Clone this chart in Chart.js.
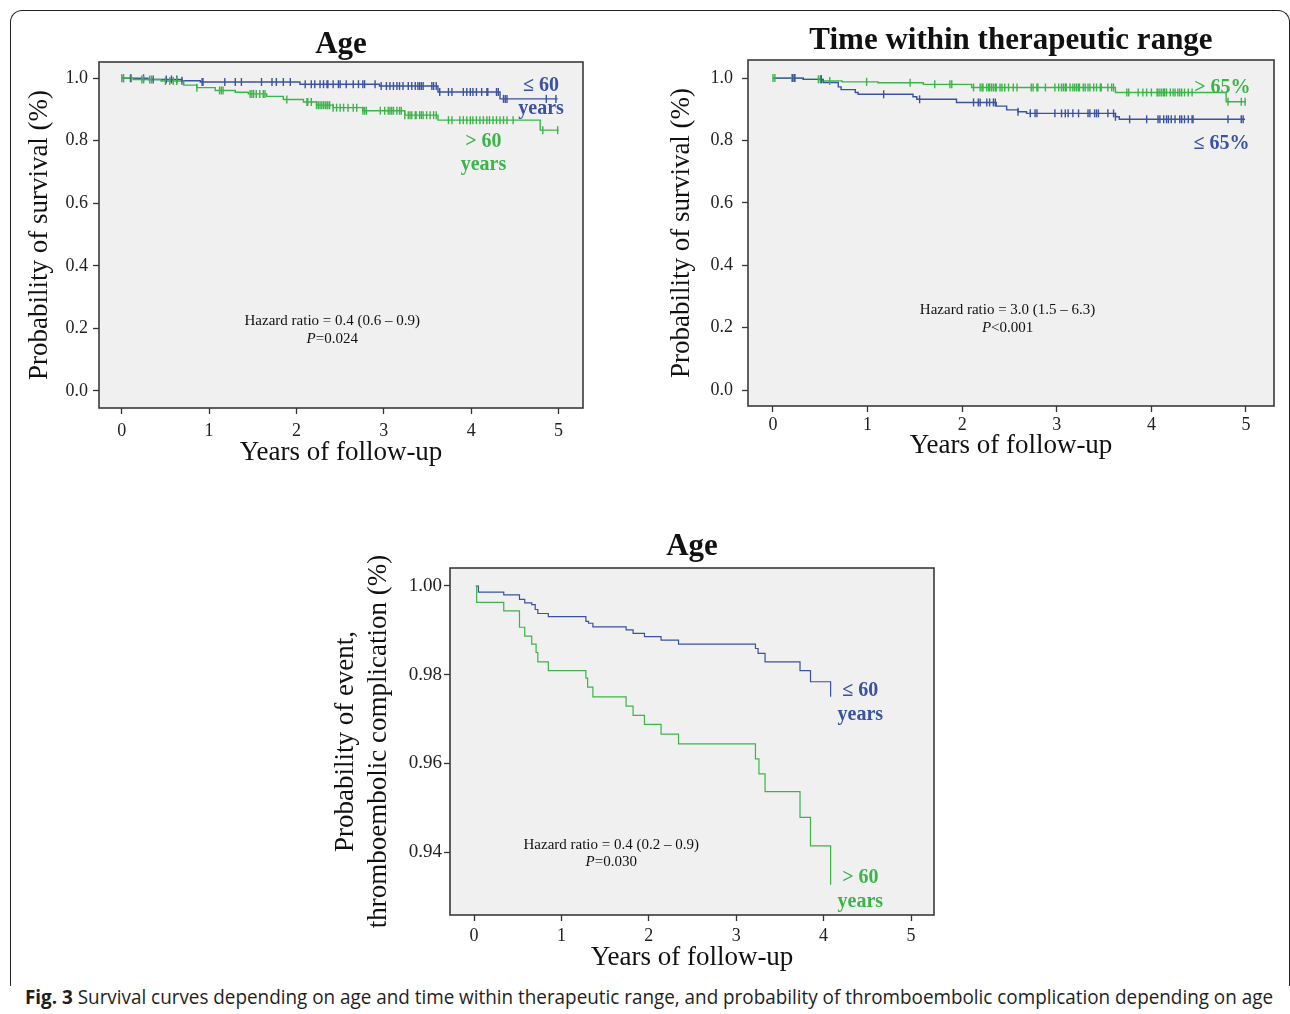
<!DOCTYPE html>
<html><head><meta charset="utf-8">
<script src="https://cdn.jsdelivr.net/npm/chart.js@4.4.1/dist/chart.umd.min.js"></script>
<style>
html,body{margin:0;padding:0;background:#fff;}
body{width:1290px;height:1014px;position:relative;overflow:hidden;}
.frame{position:absolute;left:10px;top:10px;width:1280px;height:976px;border:1.5px solid #222;border-bottom:none;border-radius:12px 12px 0 0;box-sizing:border-box;}
canvas{position:absolute;}
#cap{position:absolute;left:25px;top:984px;white-space:nowrap;font-family:'Open Sans',sans-serif;font-size:20px;color:#1e1e1e;transform-origin:0 0;line-height:25px;}
#cap b{font-weight:700;}
</style></head><body>
<div class="frame"></div>
<canvas id="c1" style="left:18px;top:12px;width:580px;height:463px;" width="580" height="463"></canvas>
<canvas id="c2" style="left:660px;top:12px;width:630px;height:463px;" width="630" height="463"></canvas>
<canvas id="c3" style="left:320px;top:515px;width:630px;height:460px;" width="630" height="460"></canvas>
<div id="cap"><b>Fig. 3</b> Survival curves depending on age and time within therapeutic range, and probability of thromboembolic complication depending on age</div>
<script>
// ---------- data ----------
const xTickValues = [0, 1, 2, 3, 4, 5];
const xTickLabels = ['0', '1', '2', '3', '4', '5'];
const survTickValues = [0, 0.2, 0.4, 0.6, 0.8, 1.0];
const survTickLabels = ['0.0', '0.2', '0.4', '0.6', '0.8', '1.0'];
const eventTickValues = [0.94, 0.96, 0.98, 1.00];
const eventTickLabels = ['0.94', '0.96', '0.98', '1.00'];

// Survival by age: <= 60 years
const ageYoungTimes = [0, 0.30, 0.69, 0.90, 2.04, 2.95, 3.62, 4.33, 4.99];
const ageYoungSurv = [1.000, 0.996, 0.992, 0.988, 0.981, 0.975, 0.956, 0.934, 0.934];
const ageYoungCensored = [0.02,0.10,0.25,0.36,0.51,0.57,0.63,0.69,0.92,0.93,1.18,1.30,1.37,1.60,1.72,1.77,1.85,1.93,2.10,2.17,2.21,2.27,2.31,2.35,2.36,2.42,2.48,2.50,2.57,2.65,2.71,2.76,2.78,2.90,2.97,3.03,3.07,3.11,3.15,3.18,3.22,3.28,3.32,3.36,3.39,3.41,3.43,3.45,3.55,3.57,3.60,3.64,3.74,3.78,3.91,3.95,3.99,4.02,4.06,4.12,4.18,4.19,4.29,4.31,4.37,4.39,4.41,4.86,4.97];
// Survival by age: > 60 years
const ageOldTimes = [0, 0.13, 0.45, 0.71, 0.86, 1.07, 1.30, 1.45, 1.66, 1.85, 2.08, 2.23, 2.42, 2.76, 3.24, 3.62, 4.79, 5.00];
const ageOldSurv = [1.000, 0.996, 0.991, 0.978, 0.970, 0.961, 0.955, 0.950, 0.942, 0.932, 0.924, 0.914, 0.906, 0.896, 0.882, 0.866, 0.834, 0.834];
const ageOldCensored = [0.00,0.02,0.11,0.23,0.25,0.32,0.34,0.50,0.55,0.59,0.63,0.86,1.12,1.14,1.16,1.47,1.49,1.51,1.54,1.58,1.62,1.64,1.89,2.12,2.13,2.17,2.23,2.25,2.27,2.29,2.31,2.33,2.35,2.36,2.38,2.42,2.46,2.50,2.54,2.59,2.65,2.69,2.76,2.78,2.80,2.96,3.01,3.05,3.07,3.09,3.11,3.15,3.18,3.20,3.24,3.28,3.30,3.32,3.36,3.37,3.41,3.43,3.45,3.49,3.53,3.57,3.60,3.74,3.78,3.87,3.91,3.95,3.99,4.02,4.06,4.10,4.14,4.18,4.21,4.25,4.29,4.33,4.37,4.41,4.48,4.82,4.99];

// Survival by time within therapeutic range: > 65%
const ttrHighTimes = [0, 0.32, 0.53, 0.73, 1.11, 1.59, 2.10, 3.62, 4.79, 5.00];
const ttrHighSurv = [1.000, 0.996, 0.991, 0.988, 0.985, 0.980, 0.970, 0.954, 0.924, 0.924];
const ttrHighCensored = [0.00,0.02,0.20,0.21,0.23,0.48,0.50,0.51,0.60,0.99,1.45,1.71,1.87,1.89,2.12,2.19,2.21,2.22,2.26,2.28,2.29,2.31,2.33,2.35,2.36,2.40,2.42,2.45,2.49,2.54,2.58,2.73,2.75,2.79,2.80,2.88,2.98,3.02,3.05,3.07,3.09,3.10,3.14,3.17,3.19,3.21,3.23,3.24,3.28,3.30,3.33,3.35,3.39,3.42,3.46,3.47,3.54,3.58,3.60,3.74,3.76,3.86,3.91,3.95,4.00,4.06,4.07,4.09,4.11,4.13,4.14,4.16,4.20,4.23,4.25,4.28,4.30,4.32,4.35,4.39,4.43,4.81,4.95,4.99];
// <= 65%
const ttrLowTimes = [0, 0.32, 0.53, 0.69, 0.72, 0.87, 0.90, 1.48, 1.52, 1.94, 2.36, 2.47, 2.59, 2.68, 3.62, 3.66, 4.99];
const ttrLowSurv = [1.000, 0.996, 0.986, 0.972, 0.963, 0.954, 0.948, 0.940, 0.932, 0.922, 0.910, 0.898, 0.892, 0.887, 0.876, 0.868, 0.868];
const ttrLowCensored = [0.21,0.23,0.51,1.17,1.55,2.12,2.17,2.19,2.26,2.29,2.33,2.35,2.59,2.72,2.77,2.79,2.98,3.05,3.09,3.12,3.17,3.23,3.33,3.35,3.40,3.42,3.44,3.54,3.60,3.62,3.77,3.95,4.07,4.09,4.13,4.16,4.18,4.21,4.25,4.30,4.32,4.35,4.39,4.43,4.44,4.81,4.95,4.97];

// Thromboembolic complication by age
const teYoungTimes = [0.02, 0.05, 0.34, 0.52, 0.58, 0.66, 0.70, 0.73, 0.85, 1.28, 1.31, 1.36, 1.74, 1.82, 1.95, 2.14, 2.34, 3.22, 3.25, 3.33, 3.73, 3.85, 4.08];
const teYoungProb = [1.0000, 0.9986, 0.9980, 0.9970, 0.9962, 0.9958, 0.9947, 0.9938, 0.9931, 0.9920, 0.9916, 0.9908, 0.9901, 0.9893, 0.9886, 0.9878, 0.9869, 0.9859, 0.9848, 0.9829, 0.9809, 0.9784, 0.9750];
const teOldTimes = [0.02, 0.03, 0.34, 0.52, 0.58, 0.66, 0.71, 0.73, 0.85, 1.28, 1.30, 1.36, 1.74, 1.82, 1.95, 2.14, 2.34, 3.22, 3.26, 3.33, 3.73, 3.85, 4.08];
const teOldProb = [1.0000, 0.9963, 0.9944, 0.9907, 0.9887, 0.9869, 0.9850, 0.9829, 0.9809, 0.9792, 0.9772, 0.9750, 0.9729, 0.9708, 0.9688, 0.9666, 0.9644, 0.9610, 0.9576, 0.9536, 0.9478, 0.9414, 0.9326];

// ---------- styling ----------
const BLUE = '#3a52a0';
const GREEN = '#3bb44a';
const SERIF = "'Liberation Serif','Times New Roman',serif";

function stepPoints(times, vals) { return times.map((t, i) => ({x: t, y: vals[i]})); }
function survAt(times, vals, t) {
  let v = vals[0];
  for (let i = 0; i < times.length; i++) { if (times[i] <= t + 1e-9) v = vals[i]; }
  return v;
}
function censorPoints(cens, times, vals) { return cens.map(t => ({x: t, y: survAt(times, vals, t)})); }

const decor = {
  id: 'kmDecor',
  beforeDraw(chart, args, o) {
    const {ctx, chartArea: a} = chart;
    ctx.save();
    ctx.fillStyle = '#f0f0f0';
    ctx.fillRect(a.left, a.top, a.right - a.left, a.bottom - a.top);
    ctx.restore();
  },
  afterDraw(chart, args, o) {
    const {ctx, chartArea: a, scales} = chart;
    ctx.save();
    ctx.strokeStyle = '#3a3a3a';
    ctx.lineWidth = 1.6;
    ctx.strokeRect(a.left, a.top, a.right - a.left, a.bottom - a.top);
    // title
    ctx.fillStyle = '#111';
    ctx.font = 'bold ' + o.titleSize + 'px ' + SERIF;
    ctx.textAlign = 'center';
    ctx.textBaseline = 'alphabetic';
    ctx.fillText(o.title, (a.left + a.right) / 2 + (o.titleDx || 0), a.top - o.titleGap);
    // texts in data units
    ctx.textBaseline = 'middle';
    (o.texts || []).forEach(item => {
      const cx = scales.x.getPixelForValue(item.x);
      const cy = scales.y.getPixelForValue(item.y);
      const widths = item.parts.map(p => {
        ctx.font = (p.italic ? 'italic ' : '') + (item.bold ? 'bold ' : '') + item.size + 'px ' + SERIF;
        return ctx.measureText(p.t).width;
      });
      let x = cx - widths.reduce((s, w) => s + w, 0) / 2;
      ctx.fillStyle = item.color || '#111';
      ctx.textAlign = 'left';
      item.parts.forEach((p, i) => {
        ctx.font = (p.italic ? 'italic ' : '') + (item.bold ? 'bold ' : '') + item.size + 'px ' + SERIF;
        ctx.fillText(p.t, x, cy);
        x += widths[i];
      });
    });
    ctx.restore();
  }
};

function makeChart(id, cfg) {
  const datasets = [];
  cfg.series.forEach(s => {
    datasets.push({
      type: 'line', data: stepPoints(s.times, s.vals), stepped: 'before',
      borderColor: s.color, borderWidth: cfg.lineWidth, pointRadius: 0, fill: false, order: 2
    });
    if (s.cens) {
      datasets.push({
        type: 'scatter', data: censorPoints(s.cens, s.times, s.vals), showLine: false,
        pointStyle: 'line', rotation: 90, pointRadius: 4, borderColor: s.color,
        borderWidth: 1.4, order: 1
      });
    }
  });
  return new Chart(document.getElementById(id), {
    data: {datasets},
    plugins: [decor],
    options: {
      responsive: false, animation: false, events: [],
      layout: {padding: {left: 0, right: cfg.padRight, top: cfg.padTop, bottom: 0}},
      plugins: {legend: {display: false}, tooltip: {enabled: false}, title: {display: false},
        kmDecor: {title: cfg.title, titleSize: cfg.titleSize, titleGap: cfg.titleGap, texts: cfg.texts}},
      scales: {
        x: {
          type: 'linear', min: cfg.xMin, max: cfg.xMax,
          afterBuildTicks: sc => { sc.ticks = xTickValues.map(v => ({value: v})); },
          afterFit: sc => { sc.height = cfg.xAxisH; },
          grid: {drawOnChartArea: false, drawTicks: true, tickLength: 6, tickColor: '#333', tickWidth: 1.3},
          border: {display: false},
          ticks: {color: '#222', font: {family: SERIF, size: cfg.tickSize}, padding: cfg.xTickPad,
            maxRotation: 0, autoSkip: false, callback: (v, i) => xTickLabels[i]},
          title: {display: true, text: 'Years of follow-up', color: '#111',
            font: {family: SERIF, size: 27, lineHeight: 1.2}, padding: {top: 0, bottom: cfg.xTitlePad}}
        },
        y: {
          type: 'linear', min: cfg.yMin, max: cfg.yMax,
          afterBuildTicks: sc => { sc.ticks = cfg.yTickValues.map(v => ({value: v})); },
          afterFit: sc => { sc.width = cfg.yAxisW; },
          grid: {drawOnChartArea: false, drawTicks: true, tickLength: 6, tickColor: '#333', tickWidth: 1.3},
          border: {display: false},
          ticks: {color: '#222', font: {family: SERIF, size: cfg.yTickSize || cfg.tickSize}, padding: cfg.yTickPad,
            autoSkip: false, callback: (v, i) => cfg.yTickLabels[i]},
          title: {display: true, text: cfg.yTitle, color: '#111',
            font: {family: SERIF, size: 27, lineHeight: cfg.yTitleLH || 1.2}, padding: {top: cfg.yTitlePad, bottom: 0}}
        }
      }
    }
  });
}

makeChart('c1', {
  title: 'Age', titleSize: 31, titleGap: 9,
  xMin: -0.26, xMax: 5.28, yMin: -0.055, yMax: 1.052,
  padRight: 15, padTop: 50, yAxisW: 81, xAxisH: 67,
  tickSize: 18, xTickPad: 6, yTickPad: 5, xTitlePad: 6, yTitlePad: 6,
  yTickValues: survTickValues, yTickLabels: survTickLabels,
  yTitle: 'Probability of survival (%)', lineWidth: 1.4,
  series: [
    {times: ageOldTimes, vals: ageOldSurv, cens: ageOldCensored, color: GREEN},
    {times: ageYoungTimes, vals: ageYoungSurv, cens: ageYoungCensored, color: BLUE}
  ],
  texts: [
    {x: 2.41, y: 0.223, size: 15, parts: [{t: 'Hazard ratio = 0.4 (0.6 \u2013 0.9)'}]},
    {x: 2.41, y: 0.166, size: 15, parts: [{t: 'P', italic: true}, {t: '=0.024'}]},
    {x: 4.80, y: 0.975, size: 20, bold: true, color: BLUE, parts: [{t: '\u2264 60'}]},
    {x: 4.80, y: 0.901, size: 20, bold: true, color: BLUE, parts: [{t: 'years'}]},
    {x: 4.14, y: 0.796, size: 20, bold: true, color: GREEN, parts: [{t: '> 60'}]},
    {x: 4.14, y: 0.722, size: 20, bold: true, color: GREEN, parts: [{t: 'years'}]}
  ]
});

makeChart('c2', {
  title: 'Time within therapeutic range', titleSize: 31, titleGap: 11,
  xMin: -0.264, xMax: 5.296, yMin: -0.051, yMax: 1.058,
  padRight: 16, padTop: 48, yAxisW: 88, xAxisH: 69,
  tickSize: 18, xTickPad: 2, yTickPad: 9, xTitlePad: 13, yTitlePad: 6,
  yTickValues: survTickValues, yTickLabels: survTickLabels,
  yTitle: 'Probability of survival (%)', lineWidth: 1.4,
  series: [
    {times: ttrLowTimes, vals: ttrLowSurv, cens: ttrLowCensored, color: BLUE},
    {times: ttrHighTimes, vals: ttrHighSurv, cens: ttrHighCensored, color: GREEN}
  ],
  texts: [
    {x: 2.48, y: 0.256, size: 15, parts: [{t: 'Hazard ratio = 3.0 (1.5 \u2013 6.3)'}]},
    {x: 2.48, y: 0.199, size: 15, parts: [{t: 'P', italic: true}, {t: '<0.001'}]},
    {x: 4.75, y: 0.968, size: 20, bold: true, color: GREEN, parts: [{t: '> 65%'}]},
    {x: 4.74, y: 0.788, size: 20, bold: true, color: BLUE, parts: [{t: '\u2264 65%'}]}
  ]
});

makeChart('c3', {
  title: 'Age', titleSize: 31, titleGap: 13,
  xMin: -0.275, xMax: 5.263, yMin: 0.92579, yMax: 1.00406,
  padRight: 16, padTop: 53, yAxisW: 130, xAxisH: 60,
  tickSize: 18, yTickSize: 19, xTickPad: 4, yTickPad: 2, xTitlePad: 1, yTitlePad: 9, yTitleLH: 1.222,
  yTickValues: eventTickValues, yTickLabels: eventTickLabels,
  yTitle: ['Probability of event,', 'thromboembolic complication (%)'], lineWidth: 1.2,
  series: [
    {times: teOldTimes, vals: teOldProb, color: GREEN},
    {times: teYoungTimes, vals: teYoungProb, color: BLUE}
  ],
  texts: [
    {x: 1.57, y: 0.9416, size: 15, parts: [{t: 'Hazard ratio = 0.4 (0.2 \u2013 0.9)'}]},
    {x: 1.57, y: 0.9378, size: 15, parts: [{t: 'P', italic: true}, {t: '=0.030'}]},
    {x: 4.42, y: 0.9763, size: 20, bold: true, color: BLUE, parts: [{t: '\u2264 60'}]},
    {x: 4.42, y: 0.9709, size: 20, bold: true, color: BLUE, parts: [{t: 'years'}]},
    {x: 4.42, y: 0.9342, size: 20, bold: true, color: GREEN, parts: [{t: '> 60'}]},
    {x: 4.42, y: 0.9287, size: 20, bold: true, color: GREEN, parts: [{t: 'years'}]}
  ]
});

// fit caption to the reference width
(function () {
  const cap = document.getElementById('cap');
  const w = cap.getBoundingClientRect().width;
  cap.style.transform = 'scaleX(' + (1248 / w) + ')';
})();
</script>
</body></html>
